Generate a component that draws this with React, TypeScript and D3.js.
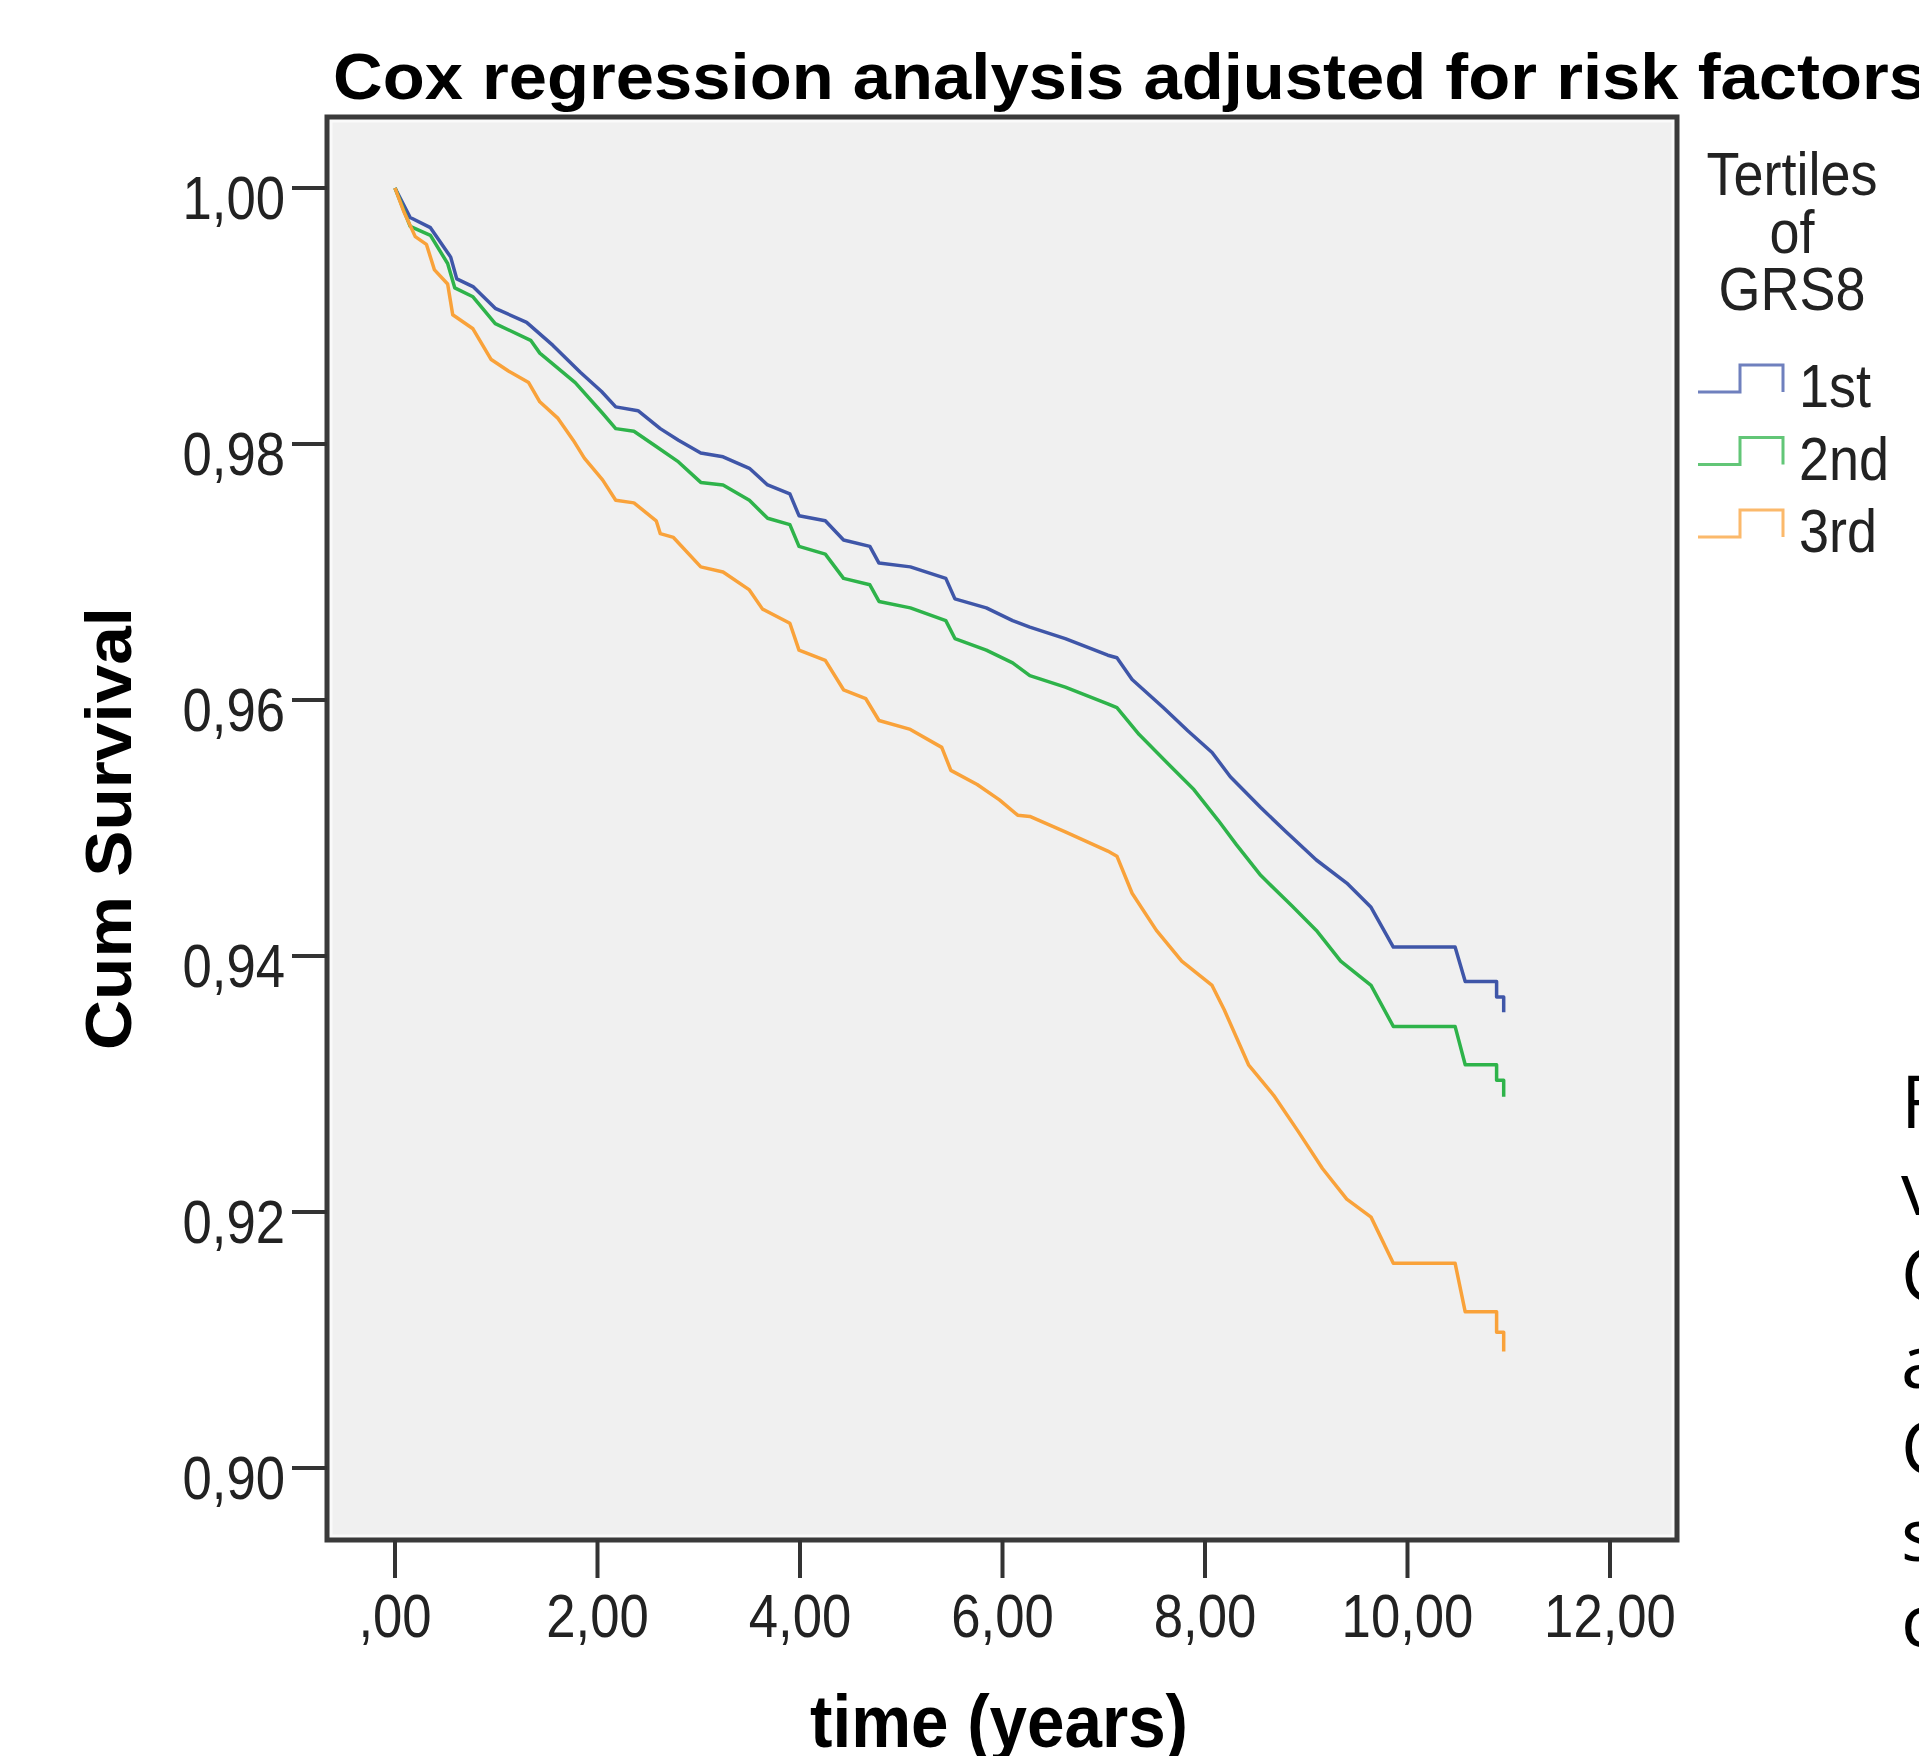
import React from "react";
import * as d3 from "d3";

// ---- data ----
const xTickValues = [0, 2, 4, 6, 8, 10, 12];
const xTickLabels = [",00", "2,00", "4,00", "6,00", "8,00", "10,00", "12,00"];
const yTickValues = [1.0, 0.98, 0.96, 0.94, 0.92, 0.9];
const yTickLabels = ["1,00", "0,98", "0,96", "0,94", "0,92", "0,90"];

const seriesNames = ["1st", "2nd", "3rd"];
const seriesColors = ["#3F56A8", "#2EB34A", "#F9A23A"];

// corner points of each survival staircase (time in years, cumulative survival)
const firstTimes = [0, 0.15, 0.35, 0.55, 0.61, 0.77, 0.99, 1.3, 1.56, 1.83, 2.04, 2.18, 2.4, 2.62, 2.8, 3.02, 3.24, 3.5, 3.68, 3.9, 3.99, 4.25, 4.43, 4.69, 4.78, 5.09, 5.44, 5.53, 5.84, 6.1, 6.27, 6.62, 7.04, 7.13, 7.28, 7.59, 7.83, 8.07, 8.25, 8.55, 8.8, 9.1, 9.4, 9.64, 9.86, 10.47, 10.57, 10.88, 10.88, 10.95, 10.95];
const firstSurv = [1.0, 0.9977, 0.9969, 0.9946, 0.9929, 0.9923, 0.9906, 0.9895, 0.9877, 0.9856, 0.9841, 0.9829, 0.9826, 0.9812, 0.9803, 0.9793, 0.979, 0.9781, 0.9768, 0.9761, 0.9744, 0.974, 0.9725, 0.972, 0.9707, 0.9704, 0.9695, 0.9679, 0.9672, 0.9662, 0.9657, 0.9648, 0.9635, 0.9633, 0.9616, 0.9594, 0.9576, 0.9559, 0.954, 0.9516, 0.9497, 0.9475, 0.9457, 0.9438, 0.9407, 0.9407, 0.938, 0.938, 0.9368, 0.9368, 0.9356];

const secondTimes = [0, 0.15, 0.35, 0.52, 0.59, 0.77, 0.99, 1.34, 1.43, 1.78, 2.05, 2.18, 2.36, 2.58, 2.8, 3.02, 3.24, 3.5, 3.68, 3.9, 3.99, 4.25, 4.43, 4.69, 4.78, 5.09, 5.44, 5.53, 5.84, 6.1, 6.27, 6.62, 7.04, 7.13, 7.35, 7.65, 7.89, 8.13, 8.31, 8.55, 8.86, 9.1, 9.34, 9.64, 9.86, 10.47, 10.57, 10.88, 10.88, 10.95, 10.95];
const secondSurv = [1.0, 0.997, 0.9963, 0.9941, 0.9922, 0.9915, 0.9894, 0.9881, 0.9871, 0.9848, 0.9824, 0.9812, 0.981, 0.9798, 0.9786, 0.977, 0.9768, 0.9756, 0.9742, 0.9737, 0.972, 0.9714, 0.9695, 0.969, 0.9677, 0.9672, 0.9662, 0.9648, 0.9639, 0.9629, 0.9619, 0.961, 0.9597, 0.9594, 0.9573, 0.9549, 0.953, 0.9506, 0.9487, 0.9463, 0.9439, 0.942, 0.9396, 0.9377, 0.9345, 0.9345, 0.9315, 0.9315, 0.9303, 0.9303, 0.929];

const thirdTimes = [0, 0.09, 0.2, 0.31, 0.39, 0.52, 0.57, 0.77, 0.95, 1.12, 1.32, 1.43, 1.61, 1.76, 1.87, 2.05, 2.18, 2.36, 2.58, 2.62, 2.75, 3.02, 3.24, 3.5, 3.63, 3.9, 3.99, 4.25, 4.43, 4.65, 4.78, 5.09, 5.4, 5.49, 5.75, 5.97, 6.15, 6.27, 6.62, 7.04, 7.13, 7.28, 7.52, 7.77, 8.07, 8.19, 8.43, 8.68, 8.92, 9.16, 9.4, 9.64, 9.86, 10.47, 10.57, 10.88, 10.88, 10.95, 10.95];
const thirdSurv = [1.0, 0.9981, 0.9962, 0.9956, 0.9936, 0.9925, 0.9901, 0.989, 0.9866, 0.9857, 0.9848, 0.9833, 0.982, 0.9803, 0.9789, 0.9772, 0.9756, 0.9754, 0.974, 0.973, 0.9727, 0.9704, 0.97, 0.9686, 0.9671, 0.966, 0.9639, 0.9631, 0.9608, 0.9601, 0.9584, 0.9577, 0.9563, 0.9545, 0.9534, 0.9522, 0.951, 0.9509, 0.9497, 0.9482, 0.9478, 0.9449, 0.942, 0.9396, 0.9377, 0.9358, 0.9315, 0.9291, 0.9263, 0.9234, 0.921, 0.9196, 0.916, 0.916, 0.9122, 0.9122, 0.9106, 0.9106, 0.9091];

const legendTitle = ["Tertiles", "of", "GRS8"];
const sideLetters = ["F", "v", "C", "a", "C", "s", "c"];

const titleText = "Cox regression analysis adjusted for risk factors";
const xLabel = "time (years)";
const yLabel = "Cum Survival";

const FONT = "'Liberation Sans', Arial, Helvetica, sans-serif";

export default function App() {
  const W = 1919;
  const H = 1756;
  const frame = { left: 327, top: 117, right: 1677, bottom: 1540 };
  const x = d3.scaleLinear().domain([0, 12]).range([395, 1610]);
  const y = d3.scaleLinear().domain([0.9, 1.0]).range([1468, 188]);

  const series = [
    { t: firstTimes, v: firstSurv },
    { t: secondTimes, v: secondSurv },
    { t: thirdTimes, v: thirdSurv },
  ];
  const line = d3
    .line<[number, number]>()
    .x((d) => x(d[0]))
    .y((d) => y(d[1]))
    .curve(d3.curveLinear);

  const tickSx = 0.85;
  const axisColor = "#333333";

  return (
    <svg
      width={W}
      height={H}
      style={{ position: "absolute", left: 0, top: 0, display: "block", background: "#ffffff" }}
    >
      <rect x={0} y={0} width={W} height={H} fill="#ffffff" />
      {/* title */}
      <text
        x={333}
        y={99}
        fontFamily={FONT}
        fontWeight="bold"
        fontSize={64}
        fill="#000"
        textLength={1594}
        lengthAdjust="spacingAndGlyphs"
      >
        {titleText}
      </text>

      {/* plot area */}
      <rect
        x={frame.left}
        y={frame.top}
        width={frame.right - frame.left}
        height={frame.bottom - frame.top}
        fill="#F0F0F0"
      />
      <rect
        x={frame.left + 4}
        y={frame.top + 4}
        width={frame.right - frame.left - 8}
        height={frame.bottom - frame.top - 8}
        fill="none"
        stroke="#FAFAFA"
        strokeWidth={3}
      />

      {/* curves */}
      {series.map((s, i) => {
        const pts: [number, number][] = s.t.map((t, j) => [t, s.v[j]]);
        return (
          <path
            key={i}
            d={line(pts) || ""}
            fill="none"
            stroke={seriesColors[i]}
            strokeWidth={3.5}
            strokeLinejoin="round"
          />
        );
      })}

      {/* frame */}
      <rect
        x={frame.left}
        y={frame.top}
        width={frame.right - frame.left}
        height={frame.bottom - frame.top}
        fill="none"
        stroke="#3A3A3A"
        strokeWidth={5}
      />

      {/* y axis ticks */}
      {yTickValues.map((v, i) => (
        <g key={"yt" + i}>
          <line x1={292} x2={frame.left} y1={y(v)} y2={y(v)} stroke={axisColor} strokeWidth={4} />
          <text
            transform={`translate(285,${y(v) + 31}) scale(${tickSx},1)`}
            textAnchor="end"
            fontFamily={FONT}
            fontSize={62}
            fill="#222"
          >
            {yTickLabels[i]}
          </text>
        </g>
      ))}

      {/* x axis ticks */}
      {xTickValues.map((t, i) => (
        <g key={"xt" + i}>
          <line x1={x(t)} x2={x(t)} y1={frame.bottom} y2={1578} stroke={axisColor} strokeWidth={4} />
          <text
            transform={`translate(${x(t)},1637) scale(${tickSx},1)`}
            textAnchor="middle"
            fontFamily={FONT}
            fontSize={62}
            fill="#222"
          >
            {xTickLabels[i]}
          </text>
        </g>
      ))}

      {/* axis labels */}
      <text
        x={810}
        y={1747}
        fontFamily={FONT}
        fontWeight="bold"
        fontSize={74}
        fill="#000"
        textLength={378}
        lengthAdjust="spacingAndGlyphs"
      >
        {xLabel}
      </text>
      <text
        transform="translate(131,1050) rotate(-90)"
        fontFamily={FONT}
        fontWeight="bold"
        fontSize={64}
        fill="#000"
        textLength={443}
        lengthAdjust="spacingAndGlyphs"
      >
        {yLabel}
      </text>

      {/* legend */}
      {legendTitle.map((s, i) => (
        <text
          key={"lt" + i}
          transform={`translate(1792,${195 + i * 57.5}) scale(0.87,1)`}
          textAnchor="middle"
          fontFamily={FONT}
          fontSize={62}
          fill="#222"
        >
          {s}
        </text>
      ))}
      {seriesNames.map((s, i) => {
        const base = 392 + i * 72.5;
        return (
          <g key={"lg" + i}>
            <path
              d={`M1698,${base} H1740 V${base - 27} H1783 V${base}`}
              fill="none"
              stroke={seriesColors[i]}
              strokeWidth={3}
              opacity={0.75}
            />
            <text
              transform={`translate(1799,${base + 15}) scale(0.87,1)`}
              fontFamily={FONT}
              fontSize={62}
              fill="#222"
            >
              {s}
            </text>
          </g>
        );
      })}

      {/* cut-off text from neighbouring column */}
      {sideLetters.map((s, i) => (
        <text
          key={"sl" + i}
          x={1901}
          y={1128 + i * 86.5}
          fontFamily="'Open Sans', 'Noto Sans', sans-serif"
          fontSize={74}
          fill="#000"
        >
          {s}
        </text>
      ))}
    </svg>
  );
}
